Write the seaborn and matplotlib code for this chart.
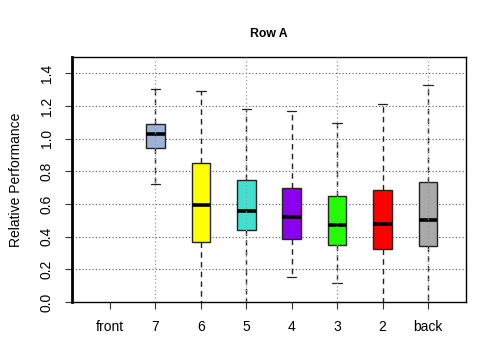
"""
Row A relative performance boxplot (R-style look) with seaborn
"""

import numpy as np
import pandas as pd
import matplotlib
matplotlib.use('Agg')
import matplotlib.pyplot as plt
import seaborn as sns

# Rows in the plot, front to back ("front" has no measurements)
rows = ['front', '7', '6', '5', '4', '3', '2', 'back']

# Five-number summaries
whisker_low = [None, 0.723, -0.05, -0.05, 0.154, 0.117, -0.05, -0.05]
q1 = [None, 0.941, 0.367, 0.440, 0.385, 0.348, 0.327, 0.342]
median = [None, 1.027, 0.596, 0.559, 0.520, 0.469, 0.479, 0.504]
q3 = [None, 1.089, 0.852, 0.747, 0.700, 0.649, 0.686, 0.735]
whisker_high = [None, 1.306, 1.291, 1.181, 1.169, 1.097, 1.214, 1.331]

row_colors = ['#FFFFFF', '#9DB3D6', '#FFFF00', '#40E0D0',
              '#8A00EE', '#22FF00', '#FF0000', '#A9A9A9']

y_ticks = [0.0, 0.2, 0.4, 0.6, 0.8, 1.0, 1.2, 1.4]


def build_frame():
    """Five points per row give exact quartiles and whisker ends"""
    records = []
    for i, row in enumerate(rows):
        if median[i] is None:
            continue
        for v in (whisker_low[i], q1[i], median[i], q3[i], whisker_high[i]):
            records.append({'row': row, 'value': v})
    return pd.DataFrame(records)


df = build_frame()

sns.set_style('white')
plt.rcParams['font.family'] = ['Liberation Sans', 'DejaVu Sans']
plt.rcParams['text.color'] = 'black'
plt.rcParams['axes.labelcolor'] = 'black'
plt.rcParams['xtick.color'] = 'black'
plt.rcParams['ytick.color'] = 'black'

fig = plt.figure(figsize=(4.8, 3.6), dpi=100)
ax = fig.add_axes([0.15, 0.161, 0.821, 0.681])

# horizontal grid goes under the boxes
for y in y_ticks[1:]:
    ax.axhline(y, color='#555555', linestyle=(0, (1, 2)), linewidth=0.8, zorder=0)

sns.boxplot(
    data=df, x='row', y='value', order=rows,
    hue='row', hue_order=rows, palette=dict(zip(rows, row_colors)),
    legend=False, whis=(0, 100), width=0.41, linecolor='#222222',
    linewidth=1.0, saturation=1, ax=ax,
    whiskerprops={'linestyle': (0, (4, 3))},
    capprops={'linestyle': '-', 'linewidth': 0.9},
    medianprops={'color': 'black', 'linewidth': 2.6},
    showfliers=False,
)

# vertical grid at every other row sits on top
for x in [1, 3, 5, 7]:
    ax.axvline(x, color='#999999', linestyle=(0, (1, 2)), linewidth=0.9, zorder=5)

ax.set_xlim(-0.837, 7.84)
ax.set_ylim(0, 1.5)
ax.set_yticks(y_ticks)
ax.set_yticklabels([f'{t:.1f}' for t in y_ticks])
plt.setp(ax.get_yticklabels(), rotation=90, va='center')

ax.tick_params(axis='both', direction='out', length=5, width=0.8,
               color='#333333', labelsize=10, pad=8, left=True, bottom=True)

for side in ['top', 'right', 'bottom']:
    ax.spines[side].set_linewidth(1.0)
    ax.spines[side].set_color('black')
ax.spines['left'].set_linewidth(2.0)
ax.spines['left'].set_color('black')

ax.set_xlabel('')
ax.set_ylabel('Relative Performance', fontsize=10, labelpad=12)
ax.set_title('Row A', fontsize=8.8, fontweight='bold', pad=14)

plt.savefig('out.png', dpi=100)
plt.close()
